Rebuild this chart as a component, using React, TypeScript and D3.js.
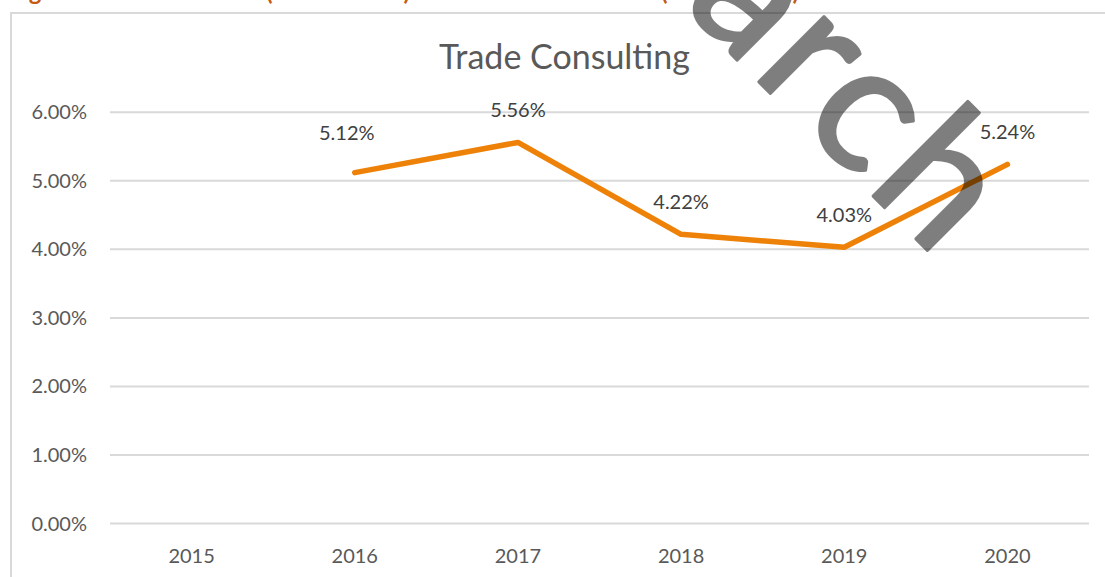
import * as d3 from "d3";

const years = ["2015", "2016", "2017", "2018", "2019", "2020"];
const shares: (number | null)[] = [null, 5.12, 5.56, 4.22, 4.03, 5.24];
const yTicks = [0, 1, 2, 3, 4, 5, 6];
const chartTitle = "Trade Consulting";

const W = 1105;
const H = 577;
const FONT = "Lato, 'Open Sans', sans-serif";
const TEXT = "#595959";
const LINE = "#EE8208";

export default function App() {
  // plot area
  const x = d3.scaleBand<string>().domain(years).range([110, 1089]).padding(0);
  const y = d3.scaleLinear().domain([0, 6]).range([523.5, 112.3]);
  const cx = (yr: string) => (x(yr) as number) + x.bandwidth() / 2;

  const pts = years.map((yr, i) => ({ yr, v: shares[i] }));
  const line = d3
    .line<{ yr: string; v: number | null }>()
    .defined((d) => d.v != null)
    .x((d) => cx(d.yr))
    .y((d) => y(d.v as number));

  // the 2016 label sits a bit up-left of the usual spot
  const nudge = (i: number) => (i === 1 ? [-8, -8] : [0, 0]);

  return (
    <svg
      width={W}
      height={H}
      style={{ position: "absolute", left: 0, top: 0, display: "block", background: "#fff" }}
    >
      {/* caption of the page, cut off at the top */}
      <text y={0} fill="#C55A11" fontFamily={FONT} fontWeight="bold" fontSize={24}>
        <tspan x={9}>Figure 6: Market Share </tspan>
        <tspan x={266} textLength={144} lengthAdjust="spacing">(2015 – 2020)</tspan>
        <tspan x={430}>of Trade Consultants</tspan>
        <tspan x={661} textLength={138} lengthAdjust="spacing">(in Percent)</tspan>
      </text>

      <rect x={11} y={13} width={1200} height={700} fill="#fff" stroke="#D9D9D9" strokeWidth={2} />

      <text x={564.5} y={69} textAnchor="middle" fill={TEXT} fontFamily={FONT} fontSize={34}>
        {chartTitle}
      </text>

      {yTicks.map((t) => (
        <g key={t}>
          <line x1={110} x2={1089} y1={y(t)} y2={y(t)} stroke="#D9D9D9" strokeWidth={2} />
          <text x={87} y={y(t) + 7} textAnchor="end" fill={TEXT} fontFamily={FONT} fontSize={20}>
            {t.toFixed(2) + "%"}
          </text>
        </g>
      ))}

      {years.map((yr) => (
        <text key={yr} x={cx(yr)} y={563} textAnchor="middle" fill={TEXT} fontFamily={FONT} fontSize={20}>
          {yr}
        </text>
      ))}

      <path d={line(pts) || ""} fill="none" stroke={LINE} strokeWidth={5.5} strokeLinecap="round" strokeLinejoin="round" />

      {pts.map((d, i) =>
        d.v == null ? null : (
          <text
            key={d.yr}
            x={cx(d.yr) + nudge(i)[0]}
            y={y(d.v) - 25 + nudge(i)[1]}
            textAnchor="middle"
            fill="#404040"
            fontFamily={FONT}
            fontSize={20}
          >
            {d.v.toFixed(2) + "%"}
          </text>
        )
      )}

      {/* watermark */}
      <g opacity={0.5}>
        <text
          transform="translate(940,263) rotate(45)"
          textAnchor="end"
          fill="#000"
          stroke="#000"
          strokeWidth={3}
          strokeLinejoin="round"
          letterSpacing={6}
          fontFamily={FONT}
          fontSize={182}
        >
          arch
        </text>
      </g>
    </svg>
  );
}
